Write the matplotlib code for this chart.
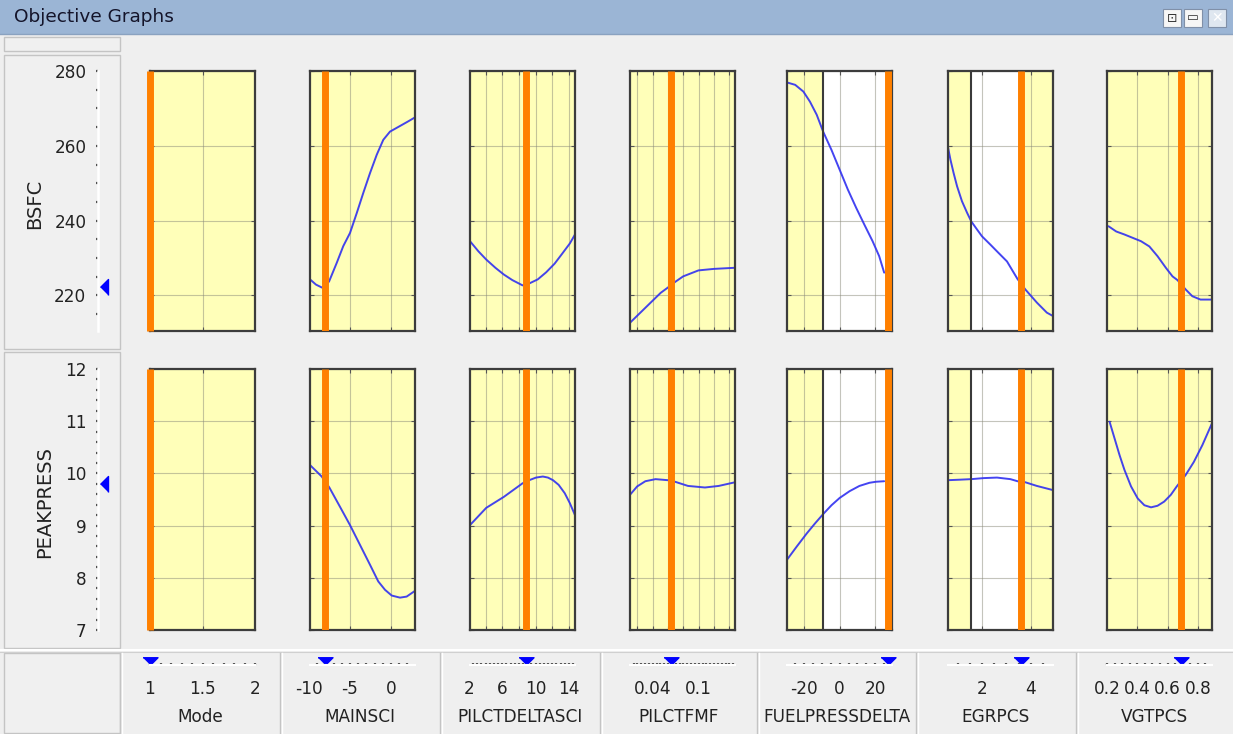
import numpy as np
import matplotlib
matplotlib.use('Agg')
import matplotlib.pyplot as plt
from matplotlib.patches import Rectangle
from matplotlib.ticker import FixedLocator, MultipleLocator
from matplotlib.transforms import blended_transform_factory

W, H = 1233, 734
plt.rcParams['font.family'] = ['DejaVu Sans']

# ---------------- data ----------------
factors = ['Mode', 'MAINSCI', 'PILCTDELTASCI', 'PILCTFMF', 'FUELPRESSDELTA', 'EGRPCS', 'VGTPCS']
factor_ranges = [(1.0, 2.0), (-9.88, 2.93), (2.12, 14.73), (0.0103, 0.1472),
                 (-29.6, 29.4), (0.61, 4.9), (0.2, 0.894)]
factor_values = [1.0, -8.0, 8.8, 0.064, 26.9, 3.59, 0.688]
grid_ticks = [[1.5], [-5, 0], [4, 6, 8, 10, 12, 14],
              [0.02, 0.04, 0.06, 0.08, 0.10, 0.12, 0.14],
              [-20, 0, 20], [2, 4], [0.4, 0.6, 0.8]]
tick_values = [[1, 1.5, 2], [-10, -5, 0], [2, 6, 10, 14], [0.04, 0.1],
               [-20, 0, 20], [2, 4], [0.2, 0.4, 0.6, 0.8]]
tick_labels = [['1', '1.5', '2'], ['-10', '-5', '0'], ['2', '6', '10', '14'],
               ['0.04', '0.1'], ['-20', '0', '20'], ['2', '4'],
               ['0.2', '0.4', '0.6', '0.8']]
minor_steps = [0.1, 1.0, 0.5, 0.005, 5.0, 0.5, 0.05]
feasible_lo = [None, None, None, None, -9.4, 1.56, None]

responses = ['BSFC', 'PEAKPRESS']
response_ylims = [(210.5, 280.0), (7.0, 12.0)]
response_ticks = [[220, 240, 260, 280], [7, 8, 9, 10, 11, 12]]
response_minor = [5.0, 0.2]
response_values = [222.3, 9.8]

mainsci_x_bsfc = [-9.88, -9.15, -8.41, -7.56, -6.62, -5.82, -5.0, -4.18, -3.38, -2.56,
                  -1.74, -0.94, -0.12, 1.1, 2.07, 2.93]
mainsci_bsfc = [224.3, 222.9, 222.1, 223.7, 228.7, 233.2, 236.7, 242.0, 247.4, 252.7,
                257.6, 261.6, 263.8, 265.3, 266.5, 267.6]
mainsci_x_pp = [-9.88, -8.45, -7.52, -6.22, -5.0, -3.78, -2.56, -1.55, -0.73, 0.09, 1.1, 1.91, 2.93]
mainsci_pp = [10.16, 9.94, 9.73, 9.36, 9.01, 8.63, 8.25, 7.93, 7.77, 7.66, 7.62, 7.64, 7.75]

pilctdelta_x_bsfc = [2.12, 3.13, 4.07, 5.17, 6.18, 7.21, 8.43, 9.23, 10.26, 11.27, 12.28, 13.1, 14.11, 14.73]
pilctdelta_bsfc = [234.5, 231.8, 229.6, 227.4, 225.6, 224.1, 222.7, 223.2, 224.3, 226.2, 228.5,
                   230.9, 233.9, 236.3]
pilctdelta_x_pp = [2.12, 4.07, 6.18, 8.43, 9.23, 10.05, 10.87, 11.48, 12.09, 12.77, 13.5, 14.11, 14.73]
pilctdelta_pp = [9.01, 9.34, 9.55, 9.81, 9.87, 9.92, 9.94, 9.92, 9.87, 9.78, 9.62, 9.43, 9.2]

pilctfmf_x_bsfc = [0.0103, 0.0303, 0.0503, 0.0596, 0.069, 0.0796, 0.0996, 0.1196, 0.1472]
pilctfmf_bsfc = [212.7, 216.7, 220.7, 222.1, 223.6, 225.1, 226.7, 227.1, 227.4]
pilctfmf_x_pp = [0.0103, 0.0196, 0.0303, 0.0436, 0.0596, 0.069, 0.0859, 0.108, 0.126, 0.1472]
pilctfmf_pp = [9.59, 9.75, 9.85, 9.89, 9.87, 9.84, 9.76, 9.73, 9.76, 9.83]

fuel_x_bsfc = [-29.3, -25.0, -20.4, -16.7, -12.9, -9.3, -4.6, 0.0, 4.6, 9.3, 13.9, 18.5, 22.2, 25.0]
fuel_bsfc = [276.9, 276.3, 274.5, 271.8, 268.3, 263.8, 258.9, 253.6, 248.3, 243.4, 238.9,
             234.5, 230.5, 226.1]
fuel_x_pp = [-29.3, -24.1, -18.5, -13.9, -9.3, -4.6, 0.0, 5.6, 11.1, 16.7, 20.4, 25.0]
fuel_pp = [8.36, 8.6, 8.85, 9.04, 9.22, 9.39, 9.53, 9.66, 9.76, 9.82, 9.84, 9.85]

egr_x_bsfc = [0.61, 0.71, 0.84, 0.98, 1.18, 1.39, 1.56, 1.8, 2.0, 2.34, 2.61, 3.02, 3.45,
              3.77, 4.24, 4.65, 4.9]
egr_bsfc = [259.6, 256.3, 252.7, 249.2, 245.2, 242.1, 239.8, 237.6, 235.8, 233.6, 231.8,
            229.1, 224.4, 221.6, 218.1, 215.4, 214.5]
egr_x_pp = [0.61, 1.11, 1.56, 2.07, 2.61, 3.16, 3.45, 3.77, 4.24, 4.9]
egr_pp = [9.87, 9.88, 9.89, 9.91, 9.92, 9.89, 9.85, 9.83, 9.76, 9.68]

vgt_x_bsfc = [0.21, 0.261, 0.315, 0.37, 0.425, 0.48, 0.534, 0.589, 0.633, 0.666, 0.72,
              0.764, 0.818, 0.862, 0.894]
vgt_bsfc = [238.5, 237.1, 236.3, 235.4, 234.5, 233.1, 230.5, 227.4, 225.1, 224.1, 221.6,
            219.8, 218.9, 218.9, 218.9]
vgt_x_pp = [0.217, 0.25, 0.283, 0.315, 0.359, 0.403, 0.447, 0.491, 0.534, 0.578, 0.622,
            0.661, 0.72, 0.774, 0.83, 0.894]
vgt_pp = [10.99, 10.67, 10.35, 10.07, 9.75, 9.52, 9.39, 9.35, 9.38, 9.46, 9.59, 9.75,
          9.97, 10.22, 10.54, 10.96]

curves = [
    None,
    [(mainsci_x_bsfc, mainsci_bsfc), (mainsci_x_pp, mainsci_pp)],
    [(pilctdelta_x_bsfc, pilctdelta_bsfc), (pilctdelta_x_pp, pilctdelta_pp)],
    [(pilctfmf_x_bsfc, pilctfmf_bsfc), (pilctfmf_x_pp, pilctfmf_pp)],
    [(fuel_x_bsfc, fuel_bsfc), (fuel_x_pp, fuel_pp)],
    [(egr_x_bsfc, egr_bsfc), (egr_x_pp, egr_pp)],
    [(vgt_x_bsfc, vgt_bsfc), (vgt_x_pp, vgt_pp)],
]

# ---------------- layout (pixels) ----------------
panel_left = [150, 310, 470, 630, 787, 948, 1107]
panel_w = 105
row_top = [71, 369]
row_h = [260, 261]
cell_edges = [120, 280, 440, 600, 757, 916, 1076, 1233]

BG = '#efefef'
YELLOW = '#ffffb9'
ORANGE = '#ff8000'
BLUE = '#3030f0'
FS = 12.2


def px(x, y, w, h):
    return [x / W, 1 - (y + h) / H, w / W, h / H]


fig = plt.figure(figsize=(W / 100, H / 100), dpi=100, facecolor=BG)

# background decorations
bg = fig.add_axes([0, 0, 1, 1], zorder=-10)
bg.set_xlim(0, W)
bg.set_ylim(H, 0)
bg.axis('off')
bg.add_patch(Rectangle((0, 0), W, 34, fc='#9bb5d5', ec='none'))
bg.plot([0, W], [34, 34], color='#8aa2c0', lw=1)
bg.text(14, 17, 'Objective Graphs', fontsize=13.3, va='center', ha='left', color='#14142a')
for bx, fc in [(1163, '#f6f6f6'), (1184, '#f6f6f6'), (1208, '#dfe7f0')]:
    bg.add_patch(Rectangle((bx, 9), 18, 18, fc=fc, ec='#8090a8', lw=0.8))
bg.text(1172, 18, '⊡', fontsize=9, ha='center', va='center', color='#333')
bg.text(1193, 18, '▭', fontsize=9, ha='center', va='center', color='#333')
bg.text(1217, 18, '✕', fontsize=10, ha='center', va='center', color='#ffffff')

# left boxes
for (y0, hh) in [(37, 14), (55, 294), (352, 296)]:
    bg.add_patch(Rectangle((4, y0), 116, hh, fc='#f0f0f0', ec='#c4c4c4', lw=1))
# bottom strip
bg.plot([0, W], [650, 650], color='#ffffff', lw=1.5)
bg.plot([0, W], [651.5, 651.5], color='#d0d0d0', lw=0.8)
bg.add_patch(Rectangle((4, 653), 116, 80, fc='#f0f0f0', ec='#c4c4c4', lw=1))
for xe in cell_edges[:-1]:
    bg.plot([xe, xe], [653, H], color='#c4c4c4', lw=1)
    bg.plot([xe + 1.5, xe + 1.5], [653, H], color='#ffffff', lw=1)

# response labels
bg.text(35, 204, responses[0], rotation=90, ha='center', va='center', fontsize=14, color='#222')
bg.text(44.5, 502, responses[1], rotation=90, ha='center', va='center', fontsize=14, color='#222')

# factor labels (clipped to their cells)
for i, name in enumerate(factors):
    cx = (cell_edges[i] + cell_edges[i + 1]) / 2
    t = bg.text(cx, 717, name, ha='center', va='center', fontsize=FS, color='#222')
    clip = Rectangle((cell_edges[i] + 1, 653), cell_edges[i + 1] - cell_edges[i] - 2, 80,
                     transform=bg.transData, fc='none', ec='none')
    t.set_clip_path(clip)

# left response axes
tri_left = [(-0.5, 0.0), (0.5, 1.0), (0.5, -1.0)]
for r in range(2):
    axl = fig.add_axes(px(98, row_top[r], 16, row_h[r]))
    axl.set_facecolor('none')
    axl.set_ylim(*response_ylims[r])
    axl.set_xlim(0, 16)
    for s in ['top', 'right', 'bottom']:
        axl.spines[s].set_visible(False)
    axl.spines['left'].set_color('white')
    axl.spines['left'].set_linewidth(1.8)
    axl.set_xticks([])
    axl.yaxis.set_major_locator(FixedLocator(response_ticks[r]))
    axl.yaxis.set_minor_locator(MultipleLocator(response_minor[r]))
    axl.tick_params(axis='y', which='both', direction='out', length=1.3, width=1.6,
                    color='#505050', labelsize=FS, labelcolor='#222', pad=7)
    axl.plot([6], [response_values[r]], marker=tri_left, ms=11.5, color='#0000ff',
             ls='none', clip_on=False)

# main panels
for c in range(len(factors)):
    lo, hi = factor_ranges[c]
    for r in range(2):
        ax = fig.add_axes(px(panel_left[c], row_top[r], panel_w, row_h[r]))
        ax.set_facecolor(YELLOW)
        ax.set_xlim(lo, hi)
        ax.set_ylim(*response_ylims[r])
        ax.xaxis.set_major_locator(FixedLocator(grid_ticks[c]))
        ax.yaxis.set_major_locator(FixedLocator(response_ticks[r]))
        ax.tick_params(which='both', direction='in', length=3, width=0.8, color='#555',
                       top=True, right=True, labelleft=False, labelbottom=False)
        ax.grid(True, color='#8a8a7a', lw=0.8, alpha=0.5)
        for s in ax.spines.values():
            s.set_color('#3c3c3c')
            s.set_linewidth(1.6)
        if feasible_lo[c] is not None:
            ax.axvspan(feasible_lo[c], factor_values[c], color='white', zorder=0.5, lw=0)
            ax.axvline(feasible_lo[c], color='#3a3a3a', lw=1.5, zorder=2.4)
        if curves[c] is not None:
            xs, ys = curves[c][r]
            ax.plot(xs, ys, color=BLUE, lw=1.4, alpha=0.9, zorder=2.2,
                    solid_joinstyle='round', solid_capstyle='round')
        ax.axvline(factor_values[c], color=ORANGE, lw=5, zorder=3,
                   solid_capstyle='butt', clip_on=(c != 0))

# bottom factor axes
tri_down = [(-1.0, 0.5), (1.0, 0.5), (0.0, -0.5)]
for c in range(len(factors)):
    lo, hi = factor_ranges[c]
    axb = fig.add_axes(px(panel_left[c], 660, panel_w, 10))
    axb.set_facecolor('none')
    axb.set_xlim(lo, hi)
    axb.set_ylim(0, 1)
    for s in ['top', 'right', 'left']:
        axb.spines[s].set_visible(False)
    axb.spines['bottom'].set_position(('axes', 0.5))
    axb.spines['bottom'].set_color('white')
    axb.spines['bottom'].set_linewidth(1.5)
    axb.set_yticks([])
    axb.set_xticks([])
    step = minor_steps[c]
    minor = np.arange(np.ceil(lo / step - 1e-9) * step, hi + 1e-9, step)
    axb.xaxis.set_minor_locator(FixedLocator(minor))
    axb.tick_params(axis='x', which='minor', direction='in', length=1.3, width=1.6,
                    color='#505050')
    trans = blended_transform_factory(axb.transData, axb.transAxes)
    for v, lab in zip(tick_values[c], tick_labels[c]):
        axb.text(v, -1.9, lab, transform=trans, ha='center', va='center',
                 fontsize=FS, color='#222', clip_on=False)
    axb.plot([factor_values[c]], [0.9], marker=tri_down, ms=10.8, color='#0000ff',
             ls='none', clip_on=False)

fig.savefig('out.png', dpi=100, facecolor=BG)
